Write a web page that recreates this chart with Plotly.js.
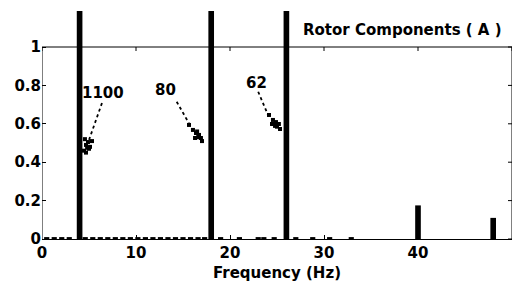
<!DOCTYPE html>
<html>
<head>
<meta charset="utf-8">
<script src="https://cdn.plot.ly/plotly-3.0.1.min.js"></script>
<style>html,body{margin:0;padding:0;background:#fff;}#chart{width:521px;height:284px;}</style>
</head>
<body>
<div id="chart"></div>
<script>
// Main spectral components (Hz, amplitude; first three run off the top of the plot)
const peakFreq = [4, 18, 26, 40, 48];
const peakAmp = [2, 2, 2, 0.175, 0.11];
// Small residual components along the baseline
const noiseFreq = [0.5, 1.3, 2.1, 2.9, 4.6, 5.4, 6.2, 7.0, 7.8, 8.6, 9.4, 10.2, 11.0, 11.8, 12.6, 13.4, 14.2, 15.0, 15.8, 16.6, 17.3, 19.0, 21.0, 23.0, 23.6, 24.7, 27.0, 28.8, 30.6, 32.9];
const noiseAmp = [0.01, 0.01, 0.01, 0.01, 0.01, 0.01, 0.01, 0.01, 0.01, 0.01, 0.01, 0.01, 0.01, 0.01, 0.01, 0.01, 0.01, 0.01, 0.01, 0.01, 0.01, 0.01, 0.01, 0.01, 0.01, 0.01, 0.01, 0.01, 0.01, 0.01];
// Annotated point clusters
const cluster1X = [4.47, 4.68, 4.89, 5.11, 5.32, 4.68, 4.57, 5.0, 4.8];
const cluster1Y = [0.46, 0.49, 0.505, 0.48, 0.51, 0.45, 0.52, 0.47, 0.475];
const cluster2X = [15.64, 16.06, 16.38, 16.7, 16.91, 16.28, 17.02, 16.5, 16.6];
const cluster2Y = [0.594, 0.568, 0.552, 0.542, 0.526, 0.526, 0.51, 0.56, 0.53];
const cluster3X = [24.15, 24.57, 24.89, 25.2, 24.79, 25.32, 24.47, 25.0, 24.9];
const cluster3Y = [0.646, 0.62, 0.609, 0.599, 0.589, 0.573, 0.599, 0.585, 0.6];
// Labels and their dotted pointers
const labelText = ['1100', '80', '62'];
const labelX = [6.49, 13.09, 22.87];
const labelY = [0.76, 0.776, 0.8125];
const pointerX0 = [6.38, 14.33, 23.0];
const pointerY0 = [0.708, 0.715, 0.767];
const pointerX1 = [5.0, 15.9, 24.1];
const pointerY1 = [0.516, 0.58, 0.64];
// Axis ticks
const xTicks = [0, 10, 20, 30, 40, 50];
const yTicks = [0, 0.2, 0.4, 0.6, 0.8, 1];
const yTickText = ['0', '0.2', '0.4', '0.6', '0.8', '1'];
const titleText = 'Rotor Components ( A )';

const F = {family: 'DejaVu Sans, Arial, sans-serif', size: 15, color: '#000', weight: 'bold'};
const traces = [];
traces.push({type: 'bar', x: noiseFreq, y: noiseAmp, width: 0.55, marker: {color: '#000'}, hoverinfo: 'skip'});
traces.push({type: 'bar', x: peakFreq, y: peakAmp, width: 0.6, marker: {color: '#000'}, hoverinfo: 'skip'});
const cx = [cluster1X, cluster2X, cluster3X], cy = [cluster1Y, cluster2Y, cluster3Y];
for (let i = 0; i < 3; i++) {
  traces.push({type: 'scatter', mode: 'markers', x: cx[i], y: cy[i], marker: {color: '#000', size: 4, symbol: 'square'}, hoverinfo: 'skip'});
  traces.push({type: 'scatter', mode: 'lines', x: [pointerX0[i], pointerX1[i]], y: [pointerY0[i], pointerY1[i]], line: {color: '#000', width: 1.8, dash: 'dot'}, hoverinfo: 'skip'});
}
const annotations = labelText.map((t, i) => ({x: labelX[i], y: labelY[i], xref: 'x', yref: 'y', text: t, showarrow: false, font: F}));
annotations.push({x: 38.4, y: 1.09, xref: 'x', yref: 'y', text: titleText, showarrow: false, font: F});

const shapes = [];
const ax = {type: 'line', line: {color: '#000', width: 1}, layer: 'below'};
shapes.push(Object.assign({}, ax, {xref: 'x', yref: 'y', x0: 0, x1: 0, y0: 0, y1: 1}));
shapes.push(Object.assign({}, ax, {xref: 'x', yref: 'y', x0: 50, x1: 50, y0: 0, y1: 1}));
shapes.push(Object.assign({}, ax, {xref: 'x', yref: 'y', x0: 0, x1: 50, y0: 1, y1: 1}));
xTicks.forEach(v => shapes.push(Object.assign({}, ax, {xref: 'x', yref: 'y', ysizemode: 'pixel', yanchor: 1, x0: v, x1: v, y0: 0, y1: -4})));
yTicks.forEach(v => shapes.push(Object.assign({}, ax, {xref: 'x', yref: 'y', xsizemode: 'pixel', xanchor: 50, x0: 0, x1: -4, y0: v, y1: v})));

const layout = {
  width: 521, height: 284,
  margin: {l: 42, r: 9, t: 11, b: 45},
  paper_bgcolor: '#fff', plot_bgcolor: '#fff',
  showlegend: false, barmode: 'overlay',
  font: F,
  xaxis: {range: [0, 50], tickvals: xTicks, ticktext: xTicks.map(String), ticks: 'inside', ticklen: 4, tickcolor: '#000',
    showline: true, linecolor: '#000', linewidth: 1, showgrid: false, zeroline: false, tickfont: F,
    title: {text: 'Frequency (Hz)', font: F, standoff: 6}},
  yaxis: {range: [0, 1.1875], tickvals: yTicks, ticktext: yTickText, ticks: 'inside', ticklen: 4, tickcolor: '#000',
    showline: false, showgrid: false, zeroline: false, tickfont: F},
  annotations: annotations,
  shapes: shapes
};
Plotly.newPlot('chart', traces, layout, {staticPlot: true});
</script>
</body>
</html>
